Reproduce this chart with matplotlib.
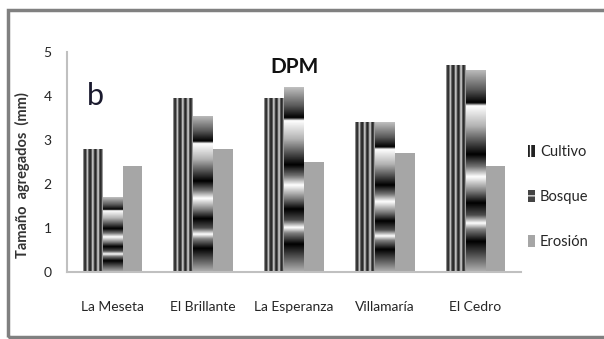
import numpy as np
import matplotlib
matplotlib.use('Agg')
import matplotlib.pyplot as plt
from matplotlib.patches import Patch, Rectangle

plt.rcParams['font.family'] = ['Lato', 'DejaVu Sans']

# DPM (mm) per site and land use
sitios = ['La Meseta', 'El Brillante', 'La Esperanza', 'Villamaría', 'El Cedro']
cultivo = [2.8, 3.95, 3.95, 3.4, 4.7]
bosque = [1.7, 3.55, 4.2, 3.4, 4.6]
erosion = [2.4, 2.8, 2.5, 2.7, 2.4]
series = ['Cultivo', 'Bosque', 'Erosión']
yticks = [0, 1, 2, 3, 4, 5]

# shading textures (1 = white, 0 = black)
stripe_t = [0, .04, .10, .16, .22, .27, .36, .43, .49, .55, .62, .69, .76, .82, .89, .95, 1.0]
stripe_v = [.75, .35, .1, .35, .95, .35, .1, .35, .95, .35, .1, .35, .95, .35, .1, .35, .8]
band_t = [0, .10, .165, .18, .28, .42, .48, .53, .60, .66, .72, .76, .79, .85, 1.0]
band_v = [.75, .35, 0, 1, .7, 0, .45, 1, .5, 0, .3, 1, .5, 0, .7]

fig = plt.figure(figsize=(6.04, 3.39), dpi=100)
ax = fig.add_axes([67 / 604, 1 - 272 / 339, 454 / 604, 220 / 339])

x = np.arange(len(sitios))
w = 0.215
off = 0.22

b_cult = ax.bar(x - off, cultivo, w, color='white', zorder=1)
b_bosq = ax.bar(x, bosque, w, color='white', zorder=1)
ax.bar(x + off, erosion, w, color='#a6a6a6', zorder=1)

tex_cult = np.interp(np.linspace(0, 1, 80), stripe_t, stripe_v)[None, :]
tex_bosq = np.interp(np.linspace(0, 1, 300), band_t, band_v)[:, None]

for bars, tex in [(b_cult, tex_cult), (b_bosq, tex_bosq)]:
    for r in bars:
        x0, y0 = r.get_x(), r.get_y()
        im = ax.imshow(tex, cmap='gray', vmin=0, vmax=1, aspect='auto',
                       interpolation='bilinear', origin='upper',
                       extent=(x0, x0 + r.get_width(), y0, y0 + r.get_height()),
                       zorder=2)
        im.set_clip_path(r)

ax.set_xlim(-0.5, 4.5)
ax.set_ylim(0, 5)
ax.set_yticks(yticks)
ax.set_xticks(x)
ax.set_xticklabels(sitios)
ax.tick_params(axis='both', length=0, labelsize=10, colors='#262626')
ax.tick_params(axis='x', pad=21)
ax.tick_params(axis='y', pad=11)
for s in ['top', 'right']:
    ax.spines[s].set_visible(False)
for s in ['left', 'bottom']:
    ax.spines[s].set_color('#c0c0c0')
    ax.spines[s].set_linewidth(1.5)

ax.text(0.5, 0.93, 'DPM', transform=ax.transAxes, ha='center', va='center',
        fontsize=15, fontweight='bold', color='#111111')
ax.text(0.063, 0.8, 'b', transform=ax.transAxes, ha='center', va='center',
        fontsize=22, color='#1a1a2e')

fig.text(22 / 604, 1 - 175 / 339, 'Tamaño  agregados  (mm)', rotation=90,
         ha='center', va='center', fontsize=10.5, fontweight='bold', color='#333333')

handles = [
    Patch(facecolor='#222222', edgecolor='white', hatch='|||', linewidth=0),
    Patch(facecolor='#444444', edgecolor='#dddddd', hatch='--', linewidth=0),
    Patch(facecolor='#a6a6a6', linewidth=0),
]
fig.legend(handles, series, loc='center left', bbox_to_anchor=(515 / 604, 1 - 197 / 339),
           frameon=False, fontsize=10.5, labelspacing=2.1, handlelength=0.45,
           handleheight=0.9, handletextpad=0.35, labelcolor='#262626')

# outer frame, open on the right
fig.patches.append(Rectangle((8 / 604, 2 / 339), 1.2, 327 / 339, transform=fig.transFigure,
                             fill=False, edgecolor='#808080', linewidth=2.5))

fig.savefig('out.png', dpi=100)
